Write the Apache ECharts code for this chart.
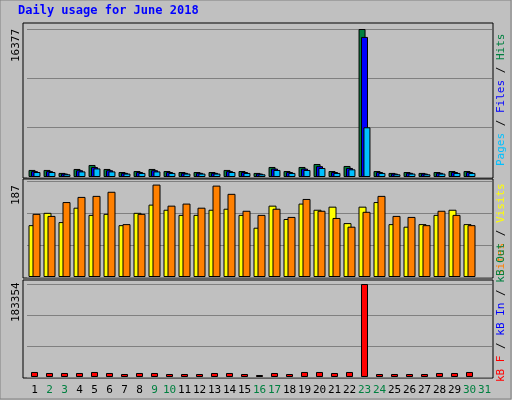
<!DOCTYPE html>
<html><head><meta charset="utf-8">
<script src="https://cdn.jsdelivr.net/npm/echarts@6/dist/echarts.min.js"></script>
<style>html,body{margin:0;padding:0;background:#c0c0c0}#c{width:512px;height:400px}</style>
</head><body><div id="c"></div>
<script>
const days = Array.from({length:31},(_,i)=>String(i+1));
const weekend = [2,3,9,10,16,17,23,24,30,31];
const hits  = [780,780,450,890,1330,890,550,660,890,660,550,550,550,780,660,450,1110,660,1110,1440,660,1220,16377,660,450,550,450,550,660,660,null];
const files = [650,650,380,750,1100,750,460,550,750,550,460,460,460,650,550,380,930,550,930,1200,550,1000,15500,550,380,460,380,460,550,550,null];
const pages = [550,550,300,620,950,620,380,450,620,450,380,380,380,550,450,300,780,450,780,1000,450,850,5500,450,300,380,300,380,450,450,null];
const visits = [101,125,107,135,121,123,101,125,141,131,121,121,131,133,121,96,139,113,143,131,137,105,137,146,103,98,103,121,131,103,null];
const sites  = [123,119,146,156,158,166,103,123,180,139,143,135,178,162,129,121,133,117,152,129,115,98,127,158,119,117,101,129,121,101,null];
const kbytes = [9900,7900,7900,7900,9900,7900,5900,7900,7900,5900,5900,5900,7900,7900,5900,3900,7900,5900,9900,9900,7900,9900,183354,5900,5900,5900,5900,7900,7900,9900,null];
const maxTop = 16377, maxMid = 187, maxBot = 183354;

const L=27, R=20;
const grids=[{left:L,right:R,top:29,height:148},{left:L,right:R,top:181,height:96},{left:L,right:R,top:284,height:93}];
function xa(i,show){return {type:'category',gridIndex:i,data:days,boundaryGap:true,
  axisLine:{show:false},axisTick:{show:false},
  axisLabel:{show:show,interval:0,fontFamily:'DejaVu Sans Mono',fontSize:11,margin:8,
    color:(v)=>weekend.includes(+v)?'#008040':'#000'}};}
function ya(i,max){return {type:'value',gridIndex:i,min:0,max:max,interval:max/3,
  axisLabel:{show:false},axisLine:{show:false},axisTick:{show:false},
  splitLine:{show:true,lineStyle:{color:'#808080',width:1}}};}
const bs={borderColor:'#000',borderWidth:1};
const opt={
  animation:false,backgroundColor:'#c0c0c0',
  grid:grids,
  xAxis:[xa(0,false),xa(1,false),xa(2,true)],
  yAxis:[ya(0,maxTop),ya(1,maxMid),ya(2,maxBot)],
  series:[
    {type:'bar',xAxisIndex:0,yAxisIndex:0,data:hits,barWidth:7,barGap:'-65%',itemStyle:{color:'#008040',...bs}},
    {type:'bar',xAxisIndex:0,yAxisIndex:0,data:files,barWidth:7,barGap:'-65%',itemStyle:{color:'#0000ff',...bs}},
    {type:'bar',xAxisIndex:0,yAxisIndex:0,data:pages,barWidth:7,barGap:'-65%',itemStyle:{color:'#00c0ff',...bs}},
    {type:'bar',xAxisIndex:1,yAxisIndex:1,data:visits,barWidth:8,barGap:'-50%',itemStyle:{color:'#ffff00',...bs}},
    {type:'bar',xAxisIndex:1,yAxisIndex:1,data:sites,barWidth:8,barGap:'-50%',itemStyle:{color:'#ff8000',...bs}},
    {type:'bar',xAxisIndex:2,yAxisIndex:2,data:kbytes,barWidth:7,itemStyle:{color:'#ff0000',...bs}}
  ],
  graphic:[
    {type:'rect',z:-10,shape:{x:0,y:0,width:511,height:399},style:{fill:'#c0c0c0',stroke:'#808080',lineWidth:1}},
    {type:'rect',z:-9,shape:{x:23,y:23,width:470,height:155},style:{fill:'#c0c0c0',stroke:'#000',lineWidth:1}},
    {type:'rect',z:-9,shape:{x:23,y:179,width:470,height:99},style:{fill:'#c0c0c0',stroke:'#000',lineWidth:1}},
    {type:'rect',z:-9,shape:{x:23,y:280,width:470,height:98},style:{fill:'#c0c0c0',stroke:'#000',lineWidth:1}},
    {type:'text',left:18,top:5,style:{text:'Daily usage for June 2018',fill:'#0000ff',font:'bold 12px "DejaVu Sans Mono"'}},
    {type:'text',x:11,y:62,rotation:Math.PI/2,style:{text:String(maxTop),fill:'#000',font:'11px "DejaVu Sans Mono"'}},
    {type:'text',x:11,y:205,rotation:Math.PI/2,style:{text:String(maxMid),fill:'#000',font:'11px "DejaVu Sans Mono"'}},
    {type:'text',x:11,y:322,rotation:Math.PI/2,style:{text:String(maxBot),fill:'#000',font:'11px "DejaVu Sans Mono"'}},
    {type:'text',x:496,y:166,rotation:Math.PI/2,style:{text:'{a|Pages}{s| / }{b|Files}{s| / }{c|Hits}',font:'11px "DejaVu Sans Mono"',
      rich:{a:{fill:'#00c0ff'},b:{fill:'#0000ff'},c:{fill:'#008040'},s:{fill:'#000'}}}},
    {type:'text',x:496,y:276,rotation:Math.PI/2,style:{text:'{a|Sites}{s| / }{b|Visits}',font:'11px "DejaVu Sans Mono"',
      rich:{a:{fill:'#ff8000'},b:{fill:'#ffff00'},s:{fill:'#000'}}}},
    {type:'text',x:496,y:382,rotation:Math.PI/2,style:{text:'{a|kB F}{s| / }{b|kB In}{s| / }{c|kB Out}',font:'11px "DejaVu Sans Mono"',
      rich:{a:{fill:'#ff0000'},b:{fill:'#0000ff'},c:{fill:'#008040'},s:{fill:'#000'}}}}
  ]
};
echarts.init(document.getElementById('c')).setOption(opt);
</script></body></html>
